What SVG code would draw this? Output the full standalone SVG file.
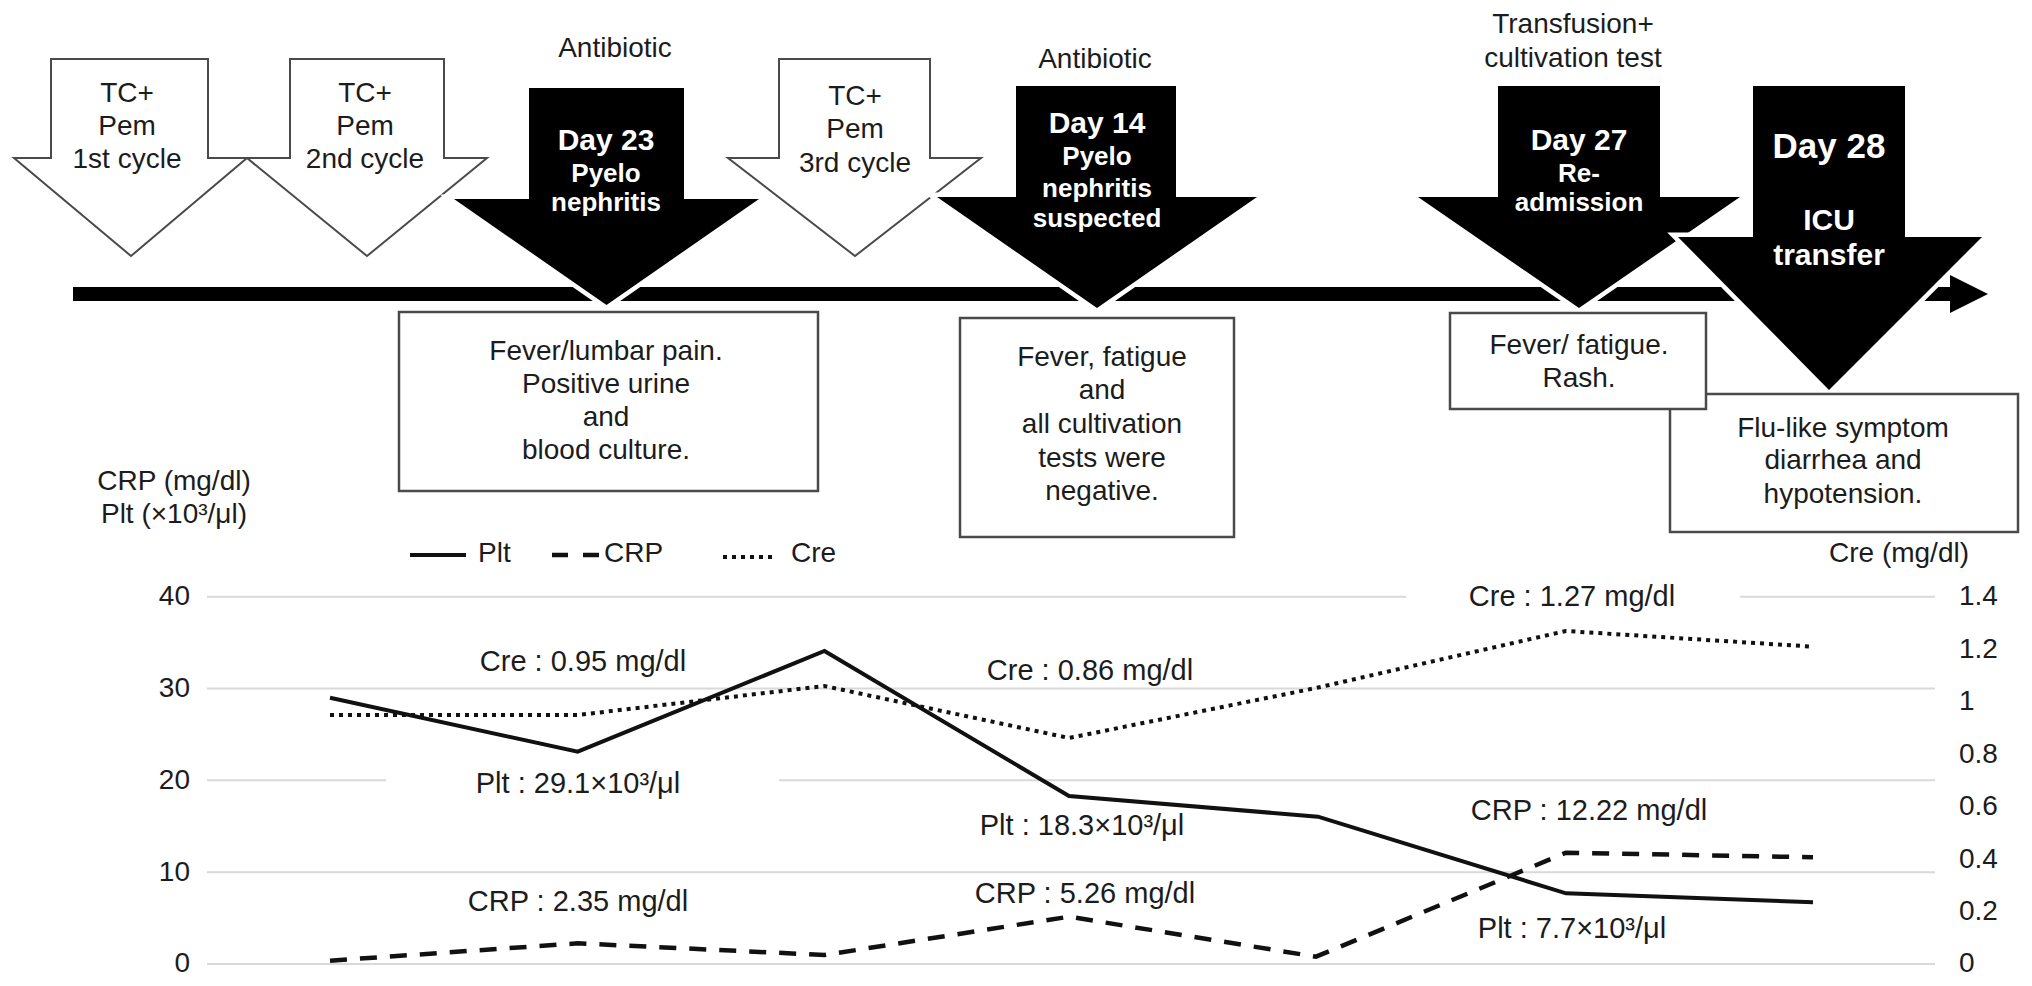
<svg xmlns="http://www.w3.org/2000/svg" width="2032" height="986" viewBox="0 0 2032 986">
<style>
text{font-family:"Liberation Sans",Arial,sans-serif;fill:#1c1c1c}
.t28{font-size:28px}
.t29{font-size:29px}
.c{text-anchor:middle}
.r{text-anchor:end}
.wb{font-weight:bold;fill:#ffffff}
.warrow{fill:#ffffff;stroke:#4a4a4a;stroke-width:2}
.barrow{fill:#000000;stroke:#ffffff;stroke-width:9;paint-order:stroke}
.box{fill:#ffffff;stroke:#4a4a4a;stroke-width:2.5}
.grid{stroke:#d9d9d9;stroke-width:2;fill:none}
.plt{fill:none;stroke:#111;stroke-width:4;stroke-linejoin:miter}
.crp{fill:none;stroke:#111;stroke-width:4.5;stroke-dasharray:17 13}
.cre{fill:none;stroke:#111;stroke-width:4;stroke-dasharray:4 5}
</style>
<rect width="2032" height="986" fill="#ffffff"/>

<g id="timeline">
<rect x="73" y="287" width="1880" height="14" fill="#000"/>
<polygon points="1950,275 1988,294 1950,313" fill="#000"/>
</g>

<g id="cycle1">
<path class="warrow" d="M51,59 H208 V158 H247 L131,256 L14,158 H51 Z"/>
<text class="t28 c" x="127" y="102">TC+</text>
<text class="t28 c" x="127" y="135">Pem</text>
<text class="t28 c" x="127" y="168">1st cycle</text>
</g>
<g id="cycle2">
<path class="warrow" d="M290,59 H444 V158 H487 L367,256 L247,158 H290 Z"/>
<text class="t28 c" x="365" y="102">TC+</text>
<text class="t28 c" x="365" y="135">Pem</text>
<text class="t28 c" x="365" y="168">2nd cycle</text>
</g>
<g id="cycle3">
<path class="warrow" d="M779,59 H930 V158 H981 L855,256 L728,158 H779 Z"/>
<text class="t28 c" x="855" y="105">TC+</text>
<text class="t28 c" x="855" y="138">Pem</text>
<text class="t28 c" x="855" y="172">3rd cycle</text>
</g>

<g id="day23">
<text class="t28 c" x="615" y="57">Antibiotic</text>
<path class="barrow" d="M529,88 H684 V199 H759 L606.5,305 L454,199 H529 Z"/>
<text class="wb c" style="font-size:30px" x="606" y="150">Day 23</text>
<text class="wb c" style="font-size:26px" x="606" y="182">Pyelo</text>
<text class="wb c" style="font-size:26px" x="606" y="211">nephritis</text>
</g>
<g id="day14">
<text class="t28 c" x="1095" y="68">Antibiotic</text>
<path class="barrow" d="M1016,86 H1176 V197 H1257 L1097,308 L937,197 H1016 Z"/>
<text class="wb c" style="font-size:30px" x="1097" y="133">Day 14</text>
<text class="wb c" style="font-size:26px" x="1097" y="165">Pyelo</text>
<text class="wb c" style="font-size:26px" x="1097" y="197">nephritis</text>
<text class="wb c" style="font-size:26px" x="1097" y="227">suspected</text>
</g>
<g id="day27">
<text class="t28 c" x="1573" y="33">Transfusion+</text>
<text class="t28 c" x="1573" y="67">cultivation test</text>
<path class="barrow" d="M1498,86 H1660 V197 H1740 L1579,308 L1418,197 H1498 Z"/>
<text class="wb c" style="font-size:30px" x="1579" y="150">Day 27</text>
<text class="wb c" style="font-size:26px" x="1579" y="182">Re-</text>
<text class="wb c" style="font-size:26px" x="1579" y="211">admission</text>
</g>
<g id="day28">
<path class="barrow" d="M1753,86 H1905 V237 H1982 L1829,390 L1678,237 H1753 Z"/>
<text class="wb c" style="font-size:35px" x="1829" y="158">Day 28</text>
<text class="wb c" style="font-size:30px" x="1829" y="230">ICU</text>
<text class="wb c" style="font-size:30px" x="1829" y="265">transfer</text>
</g>

<g id="box1">
<rect class="box" x="399" y="312" width="419" height="179"/>
<text class="t28 c" x="606" y="360">Fever/lumbar pain.</text>
<text class="t28 c" x="606" y="393">Positive urine</text>
<text class="t28 c" x="606" y="426">and</text>
<text class="t28 c" x="606" y="459">blood culture.</text>
</g>
<g id="box2">
<rect class="box" x="960" y="318" width="274" height="219"/>
<text class="t28 c" x="1102" y="366">Fever, fatigue</text>
<text class="t28 c" x="1102" y="399">and</text>
<text class="t28 c" x="1102" y="433">all cultivation</text>
<text class="t28 c" x="1102" y="467">tests were</text>
<text class="t28 c" x="1102" y="500">negative.</text>
</g>
<g id="box4">
<rect class="box" x="1670" y="394" width="348" height="138"/>
<text class="t28 c" x="1843" y="437">Flu-like symptom</text>
<text class="t28 c" x="1843" y="469">diarrhea and</text>
<text class="t28 c" x="1843" y="503">hypotension.</text>
</g>
<g id="box3">
<rect class="box" x="1450" y="313" width="256" height="96"/>
<text class="t28 c" x="1579" y="354">Fever/ fatigue.</text>
<text class="t28 c" x="1579" y="387">Rash.</text>
</g>

<g id="axes">
<text class="t28 c" x="174" y="490">CRP (mg/dl)</text>
<text class="t28 c" x="174" y="523">Plt (×10³/μl)</text>
<text class="t28 c" x="1899" y="562">Cre (mg/dl)</text>
<path class="grid" d="M207,596.7 H1406 M1740,596.7 H1935 M207,688.5 H1935 M207,780.3 H386 M779,780.3 H1935 M207,872.2 H1935 M207,964 H1935"/>
<text class="t28 r" x="190" y="605">40</text>
<text class="t28 r" x="190" y="697">30</text>
<text class="t28 r" x="190" y="789">20</text>
<text class="t28 r" x="190" y="881">10</text>
<text class="t28 r" x="190" y="972">0</text>
<text class="t28" x="1959" y="605">1.4</text>
<text class="t28" x="1959" y="658">1.2</text>
<text class="t28" x="1959" y="710">1</text>
<text class="t28" x="1959" y="763">0.8</text>
<text class="t28" x="1959" y="815">0.6</text>
<text class="t28" x="1959" y="868">0.4</text>
<text class="t28" x="1959" y="920">0.2</text>
<text class="t28" x="1959" y="972">0</text>
</g>

<g id="legend">
<line class="plt" x1="410" y1="555" x2="466" y2="555"/>
<text class="t28" x="478" y="562">Plt</text>
<line class="crp" x1="552" y1="555" x2="600" y2="555" style="stroke-dasharray:16 15"/>
<text class="t28" x="604" y="562">CRP</text>
<line class="cre" x1="723" y1="557" x2="775" y2="557"/>
<text class="t28" x="791" y="562">Cre</text>
</g>

<g id="connectors">
<polyline class="cre" points="330,715 577.7,715 824.5,686 1069,738 1316,688 1566,631 1813,646.7"/>
<polyline class="crp" points="330,960.7 577.7,943.3 824.5,955 1069,916.7 1316,956.7 1566,852.7 1813,857.3"/>
<polyline class="plt" points="330,697.7 577.7,751.7 824.5,651 1069,796 1318,816.7 1566,893.3 1813,902.3"/>
</g>

<g id="labels">
<text class="t29 c" x="583" y="671">Cre : 0.95 mg/dl</text>
<text class="t29 c" x="578" y="793">Plt : 29.1×10³/μl</text>
<text class="t29 c" x="578" y="911">CRP : 2.35 mg/dl</text>
<text class="t29 c" x="1090" y="680">Cre : 0.86 mg/dl</text>
<text class="t29 c" x="1082" y="835">Plt : 18.3×10³/μl</text>
<text class="t29 c" x="1085" y="903">CRP : 5.26 mg/dl</text>
<text class="t29 c" x="1572" y="606">Cre : 1.27 mg/dl</text>
<text class="t29 c" x="1589" y="820">CRP : 12.22 mg/dl</text>
<text class="t29 c" x="1572" y="938">Plt : 7.7×10³/μl</text>
</g>
</svg>
